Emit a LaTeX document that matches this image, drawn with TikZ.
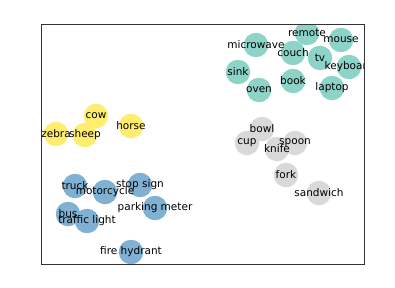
\documentclass[tikz,border=0pt]{standalone}
\usepackage{fontspec}
\setmainfont{DejaVu Sans}
\definecolor{kitchen}{HTML}{8DD3C7}
\definecolor{animal}{HTML}{FFED6F}
\definecolor{tableware}{HTML}{D9D9D9}
\definecolor{street}{HTML}{80B1D3}
\tikzset{
  obj/.style   = {circle, minimum size=24.5pt, inner sep=0pt},
  objlab/.style = {font=\fontsize{10.5}{12}\selectfont, text=black, inner sep=0pt},
  axesbox/.style = {draw=black!80, line width=0.8pt}
}
\begin{document}
\begin{tikzpicture}[x=1pt, y=-1pt]
\useasboundingbox (0,0) rectangle (395,287);
\begin{scope}
\clip (41.5,24) rectangle (364,264);
% Objects: name/x/y/colour
\foreach \n/\x/\y/\c in {%
  remote/307/33/kitchen, mouse/341/40/kitchen, microwave/256/45/kitchen,
  couch/293/53/kitchen, tv/320/58/kitchen, keyboard/349/67/kitchen,
  sink/238/72/kitchen, book/293/81/kitchen, laptop/332/88/kitchen,
  oven/259/90/kitchen,
  bowl/262/129/tableware, cup/247/143/tableware, spoon/295/143/tableware,
  knife/277/149/tableware, fork/286/175/tableware, sandwich/319/193/tableware,
  cow/96/116/animal, horse/131/126/animal, zebra/56/134/animal,
  sheep/85/135/animal,
  truck/75/186/street, motorcycle/105/192/street, stopsign/140/185/street,
  parkingmeter/155/208/street, bus/68/214/street, trafficlight/87/221/street,
  firehydrant/131/252/street} {
  \node[obj, fill=\c] (\n) at (\x,\y) {};
}
% Labels on top of all circles
\foreach \n/\t in {%
  remote/remote, mouse/mouse, microwave/microwave, couch/couch, tv/tv,
  keyboard/keyboard, sink/sink, book/book, laptop/laptop, oven/oven,
  bowl/bowl, cup/cup, spoon/spoon, knife/knife, fork/fork, sandwich/sandwich,
  cow/cow, horse/horse, zebra/zebra, sheep/sheep,
  truck/truck, motorcycle/motorcycle, stopsign/stop sign,
  parkingmeter/parking meter, bus/bus, trafficlight/traffic light,
  firehydrant/fire hydrant} {
  \node[objlab] (\n-lab) at (\n) {\t};
}
\end{scope}
\draw[axesbox] (41.5,24) rectangle (364,264);
\end{tikzpicture}
\end{document}
